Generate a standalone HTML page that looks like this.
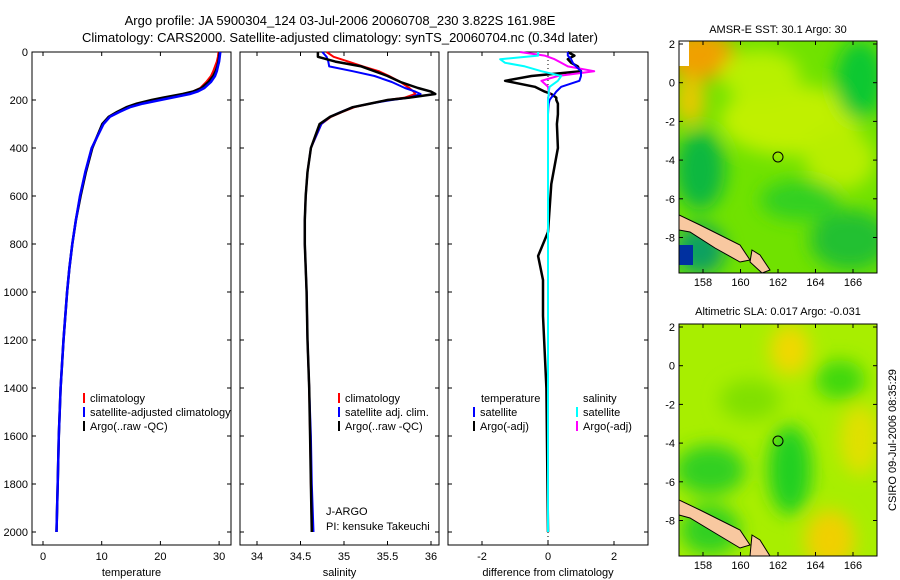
<!DOCTYPE html>
<html><head><meta charset="utf-8"><style>
body{margin:0;background:#fff}
svg{display:block;font-family:"Liberation Sans",sans-serif}
</style></head><body>
<svg id="s" width="900" height="580" viewBox="0 0 900 580" xmlns="http://www.w3.org/2000/svg">
<defs>
<filter id="blur" x="-20%" y="-20%" width="140%" height="140%"><feGaussianBlur stdDeviation="9"/></filter>
<clipPath id="c1"><rect x="679" y="41" width="198" height="232"/></clipPath>
<clipPath id="c2"><rect x="679" y="324" width="198" height="232"/></clipPath>
</defs>
<text x="340" y="25" font-size="13" text-anchor="middle">Argo profile: JA 5900304_124 03-Jul-2006 20060708_230 3.822S 161.98E</text>
<text x="340" y="42" font-size="13" text-anchor="middle">Climatology: CARS2000. Satellite-adjusted climatology: synTS_20060704.nc (0.34d later)</text>

<g>
<text x="778" y="33" font-size="11" text-anchor="middle">AMSR-E SST: 30.1 Argo: 30</text>
<g clip-path="url(#c1)">
<rect x="679" y="41" width="198" height="232" fill="#70e200"/>
<g filter="url(#blur)">
<ellipse cx="700" cy="55" rx="35" ry="25" fill="#f0a000"/>
<ellipse cx="690" cy="100" rx="15" ry="25" fill="#e8c800"/>
<ellipse cx="790" cy="120" rx="70" ry="35" fill="#c0f000"/>
<ellipse cx="760" cy="75" rx="40" ry="25" fill="#b8f000"/>
<ellipse cx="860" cy="80" rx="25" ry="40" fill="#10c830"/>
<ellipse cx="700" cy="170" rx="25" ry="40" fill="#10b840"/>
<ellipse cx="700" cy="250" rx="25" ry="25" fill="#10a060"/>
<ellipse cx="840" cy="160" rx="35" ry="30" fill="#b8ee00"/>
<ellipse cx="800" cy="200" rx="40" ry="20" fill="#30d020"/>
<ellipse cx="850" cy="240" rx="40" ry="30" fill="#20c030"/>
</g>
<rect x="679" y="245" width="14" height="20" fill="#0030a0"/>
<rect x="679" y="41" width="10" height="25" fill="#fff"/>
<path d="M679 215 L700 225 L740 245 L750 260 L740 262 L715 248 L690 232 L679 230Z" fill="#f8c8a0" stroke="#000" stroke-width="1"/>
<path d="M752 250 L760 255 L770 270 L762 273 L750 262Z" fill="#f8c8a0" stroke="#000" stroke-width="1"/>
</g>
<rect x="679" y="41" width="198" height="232" fill="none" stroke="#000"/>
<circle cx="778" cy="157" r="5" fill="none" stroke="#000"/>
<g id="m1ticks"></g>
</g>

<g>
<text x="778" y="315" font-size="11" text-anchor="middle">Altimetric SLA: 0.017 Argo: -0.031</text>
<g clip-path="url(#c2)">
<rect x="679" y="324" width="198" height="232" fill="#a8ee00"/>
<g filter="url(#blur)">
<ellipse cx="790" cy="350" rx="20" ry="25" fill="#f0d800"/>
<ellipse cx="840" cy="380" rx="25" ry="20" fill="#40d810"/>
<ellipse cx="710" cy="470" rx="35" ry="25" fill="#30d020"/>
<ellipse cx="790" cy="470" rx="22" ry="45" fill="#20d020"/>
<ellipse cx="830" cy="540" rx="25" ry="30" fill="#f0d000"/>
<ellipse cx="860" cy="440" rx="20" ry="35" fill="#e0e000"/>
<ellipse cx="710" cy="530" rx="30" ry="25" fill="#30d020"/>
<ellipse cx="750" cy="400" rx="30" ry="20" fill="#80e000"/>
</g>
<path d="M679 500 L700 510 L740 530 L750 545 L740 548 L715 533 L690 518 L679 515Z" fill="#f8c8a0" stroke="#000" stroke-width="1"/>
<path d="M752 535 L760 540 L770 556 L750 556Z" fill="#f8c8a0" stroke="#000" stroke-width="1"/>
</g>
<rect x="679" y="324" width="198" height="232" fill="none" stroke="#000"/>
<circle cx="778" cy="441" r="5" fill="none" stroke="#000"/>
<g id="m2ticks"></g>
</g>
<text transform="translate(896,440) rotate(-90)" font-size="11" text-anchor="middle">CSIRO 09-Jul-2006 08:35:29</text>

<g id="plots"></g>
</svg>
<script>
const depths=[0,20,40,60,80,100,125,150,165,175,190,200,215,230,250,270,300,400,500,600,700,800,900,1000,1200,1400,1600,1800,2000];
const tempClim=[29.9,29.8,29.6,29.3,29.0,28.6,27.8,26.8,25.5,24.0,21.0,19.0,16.5,14.5,12.8,11.2,10.2,8.3,7.2,6.3,5.6,5.0,4.5,4.1,3.5,3.0,2.7,2.5,2.3];
const tempSat=[30.2,30.1,30.0,29.8,29.6,29.3,28.6,27.5,26.3,25.0,22.0,20.0,17.0,14.8,13.0,11.4,10.3,8.3,7.2,6.3,5.6,5.0,4.5,4.1,3.5,3.0,2.7,2.5,2.3];
const tempArgo=[30.1,30.0,29.9,29.7,29.4,29.0,28.2,27.0,25.5,23.8,20.5,18.5,16.0,14.2,12.6,11.2,10.1,8.4,7.3,6.4,5.6,5.0,4.5,4.1,3.5,3.0,2.7,2.5,2.3];
const salClim=[34.8,34.88,35.05,35.22,35.4,35.52,35.65,35.75,35.8,35.82,35.7,35.5,35.3,35.12,34.98,34.85,34.74,34.62,34.58,34.56,34.55,34.55,34.56,34.57,34.58,34.6,34.61,34.62,34.63];
const salSat=[34.75,34.8,34.82,34.83,35.1,35.35,35.55,35.7,35.82,35.88,35.75,35.55,35.3,35.1,34.96,34.84,34.74,34.62,34.58,34.56,34.55,34.55,34.56,34.57,34.58,34.6,34.62,34.63,34.65];
const salArgo=[34.7,34.7,34.9,35.2,35.35,35.5,35.65,35.85,36.0,36.05,35.75,35.5,35.3,35.1,34.97,34.84,34.72,34.62,34.58,34.56,34.55,34.55,34.56,34.57,34.58,34.6,34.61,34.62,34.63];
const dDepths=[0,15,30,45,60,80,100,120,145,165,175,190,200,215,235,260,300,400,550,750,850,950,1100,1400,2000];
const dTempSat=[0.6,0.6,0.7,0.75,0.85,1.0,1.0,0.95,0.4,0.25,0.2,0.1,0.05,0.02,0.01,0,0,0,0,0,0,0,0,0,0];
const dTempArgo=[0.6,0.8,0.6,0.7,0.9,1.0,-0.5,-1.3,-0.4,-0.1,0.1,0.25,0.25,0.3,0.3,0.3,0.27,0.3,0.1,0.0,-0.3,-0.15,-0.15,-0.05,0];
const dSalSat=[-0.3,-0.3,-1.45,-1.3,-0.7,-0.2,0.4,0.3,0.05,0.02,0.02,0.01,0,0,0,0,0,0,0,0,0,0,0,0,0];
const dSalArgo=[-0.85,-0.1,0.2,0.4,0.6,1.4,0.3,-0.2,0.0,0.02,0.05,0,0,0,0,0,0,0,0,0,0,0,0,0,0];
const depthTicks=[0,200,400,600,800,1000,1200,1400,1600,1800,2000];
const tempTicks=[0,10,20,30];
const salTicks=["34","34.5","35","35.5","36"];
const diffTicks=[-2,0,2];
const latTicks=[2,0,-2,-4,-6,-8];
const lonTicks=[158,160,162,164,166];

const NS='http://www.w3.org/2000/svg';
const root=document.getElementById('plots');
function mk(tag,attrs,parent,text){const e=document.createElementNS(NS,tag);for(const k in attrs)e.setAttribute(k,attrs[k]);if(text!==undefined)e.textContent=text;(parent||root).appendChild(e);return e;}
const yD=d=>52+d*0.24;
const panels=[
 {x0:32,x1:231,sx:v=>43+v*5.87,ticks:tempTicks,label:'temperature',name:'temperature-panel'},
 {x0:240,x1:439,sx:v=>257+(v-34)*87,ticks:salTicks,label:'salinity',name:'salinity-panel'},
 {x0:448,x1:648,sx:v=>548+v*33,ticks:diffTicks,label:'difference from climatology',name:'difference-panel'}];
panels.forEach((p,i)=>{
 const g=mk('g',{});
 
 
 mk('rect',{x:p.x0,y:52,width:p.x1-p.x0,height:493,fill:'none',stroke:'#000'},g);
 depthTicks.forEach(d=>{
  mk('line',{x1:p.x0,x2:p.x0+4,y1:yD(d),y2:yD(d),stroke:'#000'},g);
  mk('line',{x1:p.x1,x2:p.x1-4,y1:yD(d),y2:yD(d),stroke:'#000'},g);
  if(i==0){const t=mk('text',{x:28,y:yD(d)+4,'font-size':11,'text-anchor':'end'},g,String(d));
   }
 });
 p.ticks.forEach(v=>{const x=p.sx(parseFloat(v));
  mk('line',{x1:x,x2:x,y1:545,y2:541,stroke:'#000'},g);
  mk('line',{x1:x,x2:x,y1:52,y2:56,stroke:'#000'},g);
  const t=mk('text',{x:x,y:560,'font-size':11,'text-anchor':'middle'},g,String(v));
  });
 const lt=mk('text',{x:(p.x0+p.x1)/2,y:576,'font-size':11,'text-anchor':'middle'},g,p.label);
 
 p.g=g;
});
mk('line',{x1:548,x2:548,y1:52,y2:545,stroke:'#000','stroke-dasharray':'1,3'},panels[2].g);
function line(p,ds,vals,color,w,name){
 const pts=ds.map((d,k)=>p.sx(vals[k]).toFixed(1)+','+yD(d).toFixed(1)).join(' ');
 const e=mk('polyline',{points:pts,fill:'none',stroke:color,'stroke-width':w,'stroke-linejoin':'round'},p.g);
 
}
line(panels[0],depths,tempClim,'#f00',2,'temp-climatology-line');
line(panels[0],depths,tempArgo,'#000',2.5,'temp-argo-line');
line(panels[0],depths,tempSat,'#00f',2.5,'temp-satellite-line');
line(panels[1],depths,salClim,'#f00',2,'sal-climatology-line');
line(panels[1],depths,salSat,'#00f',2,'sal-satellite-line');
line(panels[1],depths,salArgo,'#000',2.5,'sal-argo-line');
line(panels[2],dDepths,dTempArgo,'#000',2.5,'diff-temp-argo-line');
line(panels[2],dDepths,dSalArgo,'#f0f',2,'diff-sal-argo-line');
line(panels[2],dDepths,dTempSat,'#00f',2,'diff-temp-satellite-line');
line(panels[2],dDepths,dSalSat,'#0ff',2,'diff-sal-satellite-line');
function legend(g,x,y,color,txt){
 mk('line',{x1:x,x2:x,y1:y-9,y2:y+1,stroke:color,'stroke-width':2},g);
 const t=mk('text',{x:x+6,y:y,'font-size':11},g,txt);
 
}
legend(panels[0].g,84,402,'#f00','climatology');
legend(panels[0].g,84,416,'#00f','satellite-adjusted climatology');
legend(panels[0].g,84,430,'#000','Argo(..raw -QC)');
legend(panels[1].g,339,402,'#f00','climatology');
legend(panels[1].g,339,416,'#00f','satellite adj. clim.');
legend(panels[1].g,339,430,'#000','Argo(..raw -QC)');
mk('text',{x:481,y:402,'font-size':11},panels[2].g,'temperature');
mk('text',{x:583,y:402,'font-size':11},panels[2].g,'salinity');
legend(panels[2].g,474,416,'#00f','satellite');
legend(panels[2].g,474,430,'#000','Argo(-adj)');
legend(panels[2].g,577,416,'#0ff','satellite');
legend(panels[2].g,577,430,'#f0f','Argo(-adj)');
mk('text',{x:326,y:515,'font-size':11},panels[1].g,'J-ARGO');
mk('text',{x:326,y:530,'font-size':11},panels[1].g,'PI: kensuke Takeuchi');
[[document.getElementById('m1ticks'),41,273],[document.getElementById('m2ticks'),324,556]].forEach(([g,top,bot])=>{
 const ylat=v=>top+3+(2-v)*19.35;
 latTicks.forEach(v=>{const y=ylat(v);
  mk('line',{x1:679,x2:683,y1:y,y2:y,stroke:'#000'},g);mk('line',{x1:877,x2:873,y1:y,y2:y,stroke:'#000'},g);
  const t=mk('text',{x:675,y:y+4,'font-size':11,'text-anchor':'end'},g,String(v));
  });
 lonTicks.forEach(v=>{const x=778+(v-162)*18.75;
  mk('line',{x1:x,x2:x,y1:bot,y2:bot-4,stroke:'#000'},g);mk('line',{x1:x,x2:x,y1:top,y2:top+4,stroke:'#000'},g);
  const t=mk('text',{x:x,y:bot+13,'font-size':11,'text-anchor':'middle'},g,String(v));
  });
});
</script>
</body></html>
